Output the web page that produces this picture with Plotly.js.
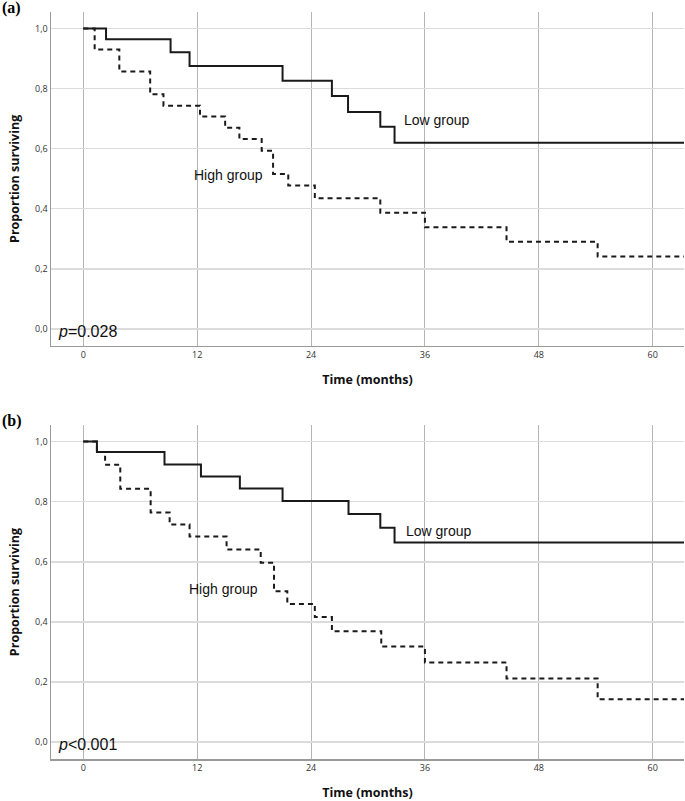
<!DOCTYPE html>
<html>
<head>
<meta charset="utf-8">
<script src="https://cdn.plot.ly/plotly-3.0.1.min.js"></script>
<style>html,body{margin:0;padding:0;background:#fff;}#chart{width:685px;height:801px;}</style>
</head>
<body>
<div id="chart"></div>
<script>
// Panel (a)
const aLowTime  = [0, 2.4, 9.2, 11.2, 21.0, 26.2, 27.9, 31.3, 32.8, 64];
const aLowSurv  = [1.0, 0.964, 0.921, 0.875, 0.826, 0.775, 0.722, 0.673, 0.620, 0.620];
const aHighTime = [0, 1.2, 3.8, 7.05, 8.45, 12.3, 14.95, 16.45, 18.8, 20.0, 21.6, 24.4, 31.3, 36.0, 44.6, 54.2, 64];
const aHighSurv = [1.0, 0.930, 0.857, 0.781, 0.743, 0.707, 0.670, 0.632, 0.593, 0.516, 0.477, 0.435, 0.387, 0.338, 0.290, 0.241, 0.241];
// Panel (b)
const bLowTime  = [0, 1.44, 8.56, 12.4, 16.5, 21.0, 27.95, 31.3, 32.8, 64];
const bLowSurv  = [1.0, 0.965, 0.924, 0.884, 0.844, 0.802, 0.759, 0.713, 0.664, 0.664];
const bHighTime = [0, 1.44, 2.3, 3.9, 7.1, 9.1, 11.2, 15.1, 18.7, 20.1, 21.5, 24.4, 26.2, 31.4, 36.0, 44.6, 54.2, 64];
const bHighSurv = [1.0, 0.965, 0.923, 0.843, 0.764, 0.724, 0.684, 0.641, 0.597, 0.502, 0.460, 0.416, 0.369, 0.318, 0.265, 0.212, 0.143, 0.143];

const xTicks = [0, 12, 24, 36, 48, 60];
const yTicks = [0, 0.2, 0.4, 0.6, 0.8, 1.0];
const yTickText = ["0,0", "0,2", "0,4", "0,6", "0,8", "1,0"];
const pValues = ["<i>p</i>=0.028", "<i>p</i><0.001"];
const groupNames = ["Low group", "High group"];
const panelLabels = ["(a)", "(b)"];

const lineCol = '#1a1a1a';
function tr(x, y, xa, ya, dash) {
  return {x: x, y: y, xaxis: xa, yaxis: ya, type: 'scatter', mode: 'lines',
    line: {shape: 'hv', color: lineCol, width: 2, dash: dash}, hoverinfo: 'skip', showlegend: false};
}
const data = [
  tr(aLowTime, aLowSurv, 'x', 'y', 'solid'),
  tr(aHighTime, aHighSurv, 'x', 'y', '5px,4px'),
  tr(bLowTime, bLowSurv, 'x2', 'y2', 'solid'),
  tr(bHighTime, bHighSurv, 'x2', 'y2', '5px,4px')
];

const tickFont = {family: 'Open Sans, DejaVu Sans, sans-serif', size: 9, color: '#333'};
const titleFont = {family: 'Open Sans, DejaVu Sans, sans-serif', size: 12.5, color: '#111', weight: 'bold'};
function xax(anchor) {
  return {range: [-3.4, 63.3], tickvals: xTicks, ticktext: xTicks.map(String), anchor: anchor,
    showgrid: true, gridcolor: '#b5b5b5', gridwidth: 1, zeroline: false,
    showline: true, linecolor: '#9a9a9a', linewidth: 1.5, ticks: '', tickfont: tickFont,
    title: {text: '<b>Time (months)</b>', font: titleFont, standoff: 15}, automargin: false};
}
function yax(anchor, dom) {
  return {range: [-0.056, 1.055], tickvals: yTicks, ticktext: yTickText, anchor: anchor, domain: dom,
    showgrid: true, gridcolor: '#dcdcdc', gridwidth: 1.5, zeroline: false,
    showline: true, linecolor: '#9a9a9a', linewidth: 1.5, ticks: '', tickfont: tickFont,
    title: {text: '<b>Proportion surviving</b>', font: titleFont, standoff: 12}, automargin: false};
}
const annFont = {family: 'Liberation Sans, Arial, sans-serif', size: 14, color: '#111'};
const pFont = {family: 'Liberation Sans, Arial, sans-serif', size: 16, color: '#111'};
const panelFont = {family: 'Liberation Serif, Times New Roman, serif', size: 16, color: '#000', weight: 'bold'};
const annotations = [
  {xref: 'x', yref: 'y', x: 33.55, y: 0.695, text: groupNames[0], xanchor: 'left', yanchor: 'middle', showarrow: false, font: annFont},
  {xref: 'x', yref: 'y', x: 11.5, y: 0.512, text: groupNames[1], xanchor: 'left', yanchor: 'middle', showarrow: false, font: annFont},
  {xref: 'x', yref: 'y', x: -2.9, y: -0.009, text: pValues[0], xanchor: 'left', yanchor: 'middle', showarrow: false, font: pFont},
  {xref: 'x2', yref: 'y2', x: 33.8, y: 0.701, text: groupNames[0], xanchor: 'left', yanchor: 'middle', showarrow: false, font: annFont},
  {xref: 'x2', yref: 'y2', x: 10.95, y: 0.511, text: groupNames[1], xanchor: 'left', yanchor: 'middle', showarrow: false, font: annFont},
  {xref: 'x2', yref: 'y2', x: -2.9, y: -0.007, text: pValues[1], xanchor: 'left', yanchor: 'middle', showarrow: false, font: pFont},
  {xref: 'paper', yref: 'paper', x: -0.0806, y: 1.006, text: '<b>' + panelLabels[0] + '</b>', xanchor: 'left', yanchor: 'middle', showarrow: false, font: panelFont},
  {xref: 'paper', yref: 'paper', x: -0.0806, y: (759 - 421) / 747, text: '<b>' + panelLabels[1] + '</b>', xanchor: 'left', yanchor: 'middle', showarrow: false, font: panelFont}
];
const layout = {
  width: 685, height: 801,
  margin: {l: 51, r: 1, t: 12, b: 42},
  paper_bgcolor: '#fff', plot_bgcolor: '#fff',
  xaxis: xax('y'), yaxis: yax('x', [0.5533, 1]),
  xaxis2: xax('y2'), yaxis2: yax('x2', [0, 0.4471]),
  annotations: annotations,
  showlegend: false
};
Plotly.newPlot('chart', data, layout, {staticPlot: true, displayModeBar: false});
</script>
</body>
</html>
